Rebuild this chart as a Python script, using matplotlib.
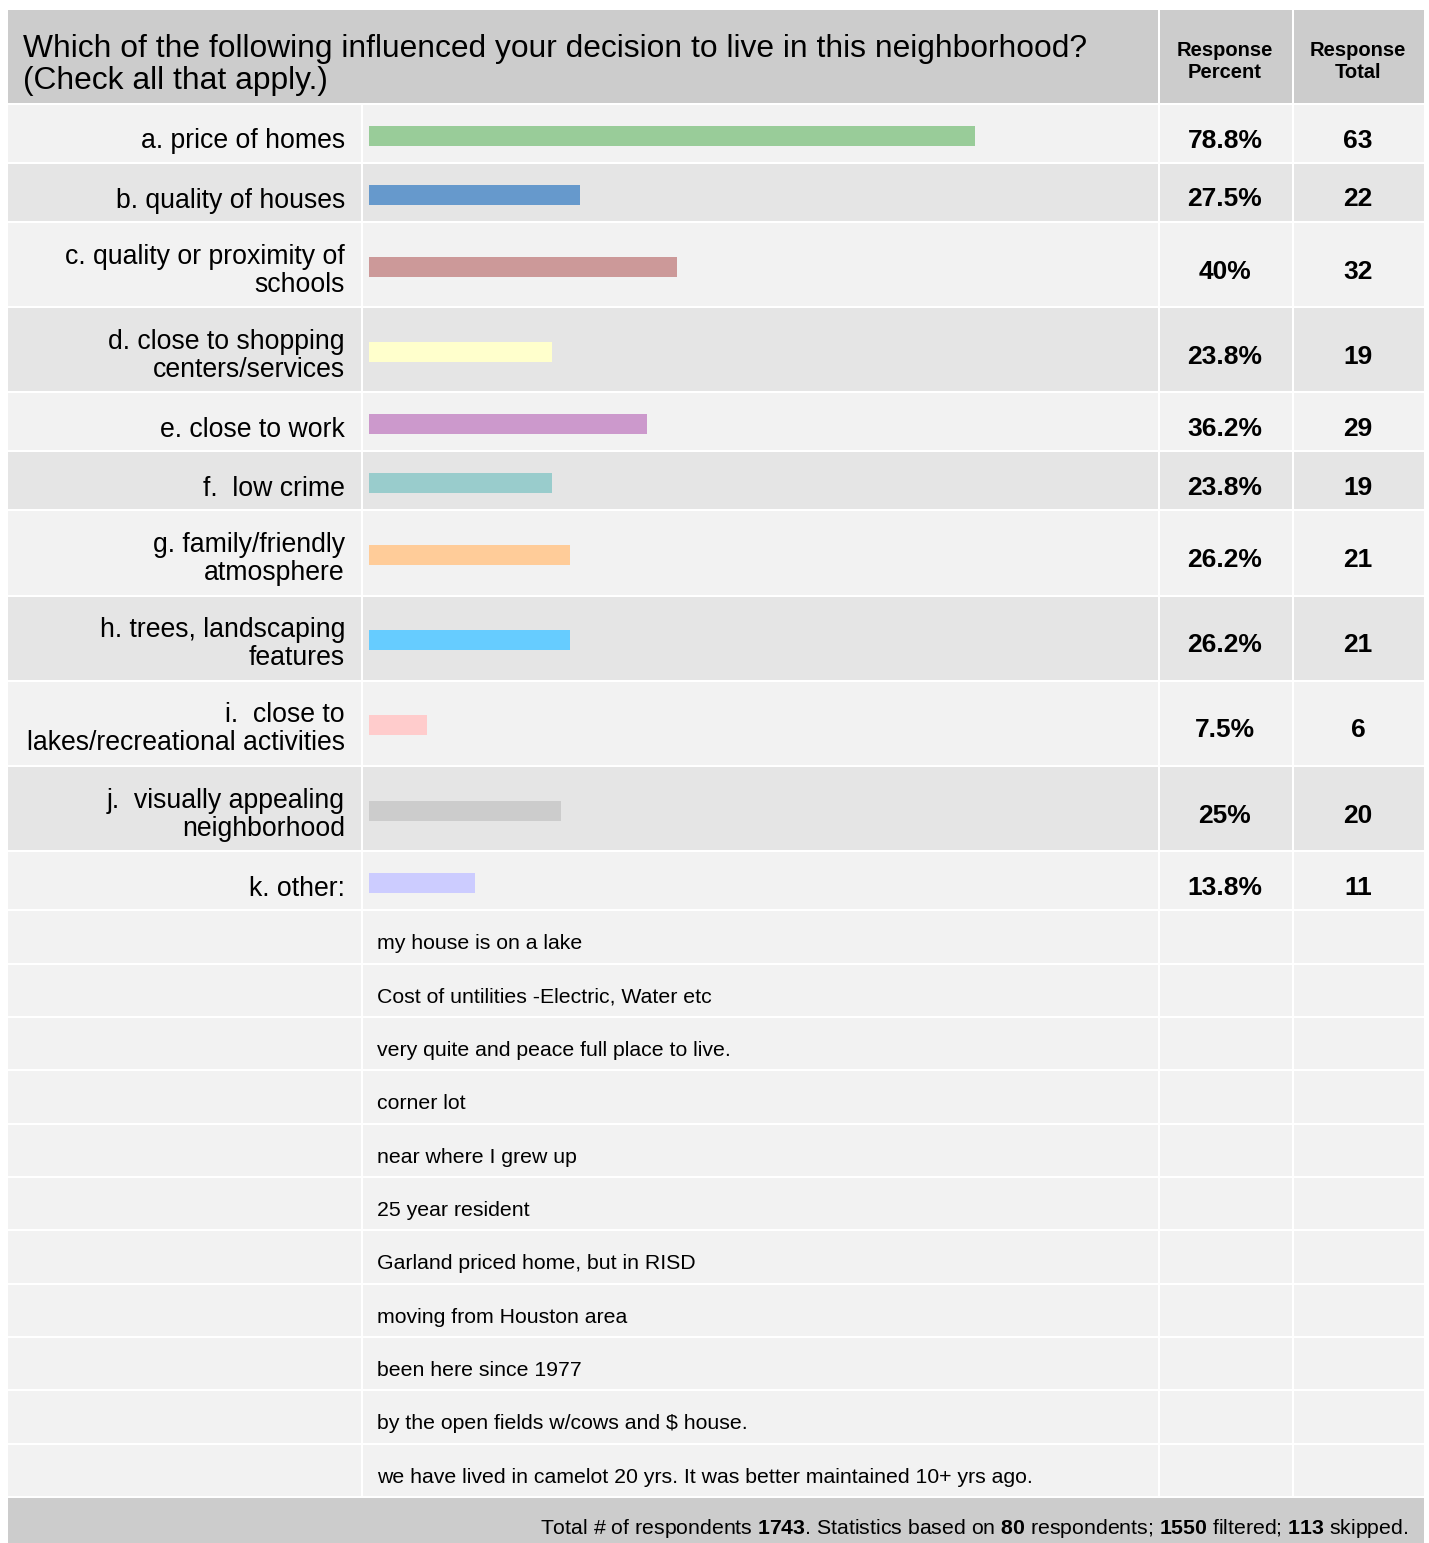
import numpy as np
import matplotlib
matplotlib.use('Agg')
import matplotlib.pyplot as plt
from matplotlib.patches import Rectangle

plt.rcParams['font.family'] = ['Liberation Sans', 'DejaVu Sans']
plt.rcParams['mathtext.fontset'] = 'custom'
plt.rcParams['mathtext.rm'] = 'Liberation Sans'
plt.rcParams['mathtext.bf'] = 'Liberation Sans:bold'

W, H = 1429, 1543

question = "Which of the following influenced your decision to live in this neighborhood?\n(Check all that apply.)"
labels = [
    "a. price of homes",
    "b. quality of houses",
    "c. quality or proximity of\nschools",
    "d. close to shopping\ncenters/services",
    "e. close to work",
    "f.  low crime",
    "g. family/friendly\natmosphere",
    "h. trees, landscaping\nfeatures",
    "i.  close to\nlakes/recreational activities",
    "j.  visually appealing\nneighborhood",
    "k. other:",
]
percents = [78.8, 27.5, 40, 23.8, 36.2, 23.8, 26.2, 26.2, 7.5, 25, 13.8]
percent_text = ["78.8%", "27.5%", "40%", "23.8%", "36.2%", "23.8%", "26.2%", "26.2%", "7.5%", "25%", "13.8%"]
totals = [63, 22, 32, 19, 29, 19, 21, 21, 6, 20, 11]
bar_colors = ['#99cc99', '#6699cc', '#cc9999', '#ffffcc', '#cc99cc', '#99cccc',
              '#ffcc99', '#66ccff', '#ffcccc', '#cccccc', '#ccccff']
other_answers = [
    "my house is on a lake",
    "Cost of untilities -Electric, Water etc",
    "very quite and peace full place to live.",
    "corner lot",
    "near where I grew up",
    "25 year resident",
    "Garland priced home, but in RISD",
    "moving from Houston area",
    "been here since 1977",
    "by the open fields w/cows and $ house.",
    "we have lived in camelot 20 yrs. It was better maintained 10+ yrs ago.",
]
footer = (r"Total # of respondents $\mathbf{1743}$. Statistics based on $\mathbf{80}$ respondents; "
          r"$\mathbf{1550}$ filtered; $\mathbf{113}$ skipped.")

# table geometry (pixels)
LEFT, RIGHT = 8, 1424
COLS = [(8, 361), (363, 1158), (1160, 1292), (1294, 1424)]
HEAD_TOP, HEAD_BOT = 10, 103
GAP = 2

fig = plt.figure(figsize=(W / 100, H / 100), dpi=100)
ax = fig.add_axes([0, 0, 1, 1])
ax.set_xlim(0, W)
ax.set_ylim(H, 0)
ax.axis('off')

# header
ax.add_patch(Rectangle((LEFT, HEAD_TOP), RIGHT - LEFT, HEAD_BOT - HEAD_TOP, color='#cccccc', lw=0))
for x0 in (1158, 1292):
    ax.add_patch(Rectangle((x0, HEAD_TOP), GAP, HEAD_BOT - HEAD_TOP, color='white', lw=0))
ax.text(23, 65, question, fontsize=22.9, ha='left', va='center', linespacing=1.12, color='black')
ax.text(1225, 62, "Response\nPercent", fontsize=14.5, fontweight='bold', ha='center', va='center', linespacing=1.2)
ax.text(1358, 62, "Response\nTotal", fontsize=14.5, fontweight='bold', ha='center', va='center', linespacing=1.2)

# rows
y = HEAD_BOT + GAP
centers = []
for i, lab in enumerate(labels):
    two_line = '\n' in lab
    h = 83.2 if two_line else 57
    bg = '#f2f2f2' if i % 2 == 0 else '#e5e5e5'
    for x0, x1 in COLS:
        ax.add_patch(Rectangle((x0, y), x1 - x0, h, color=bg, lw=0))
    c = y + h / 2
    centers.append(c + 2)
    ax.text(345, c + (6 if two_line else 8), lab, fontsize=19.2, ha='right', va='center', linespacing=1.1)
    ax.text(1225, c + 7, percent_text[i], fontsize=19, fontweight='bold', ha='center', va='center')
    ax.text(1358, c + 7, str(totals[i]), fontsize=19, fontweight='bold', ha='center', va='center')
    y += h + GAP

ch = (1498 - y) / len(other_answers)
for txt in other_answers:
    for x0, x1 in COLS:
        ax.add_patch(Rectangle((x0, y), x1 - x0, ch - GAP, color='#f2f2f2', lw=0))
    ax.text(377, y + (ch - GAP) / 2 + 7, txt, fontsize=15.3, ha='left', va='center')
    y += ch

# footer
ax.add_patch(Rectangle((LEFT, y), RIGHT - LEFT, H - y, color='#cccccc', lw=0))
ax.text(1408, y + 31, footer, fontsize=15.3, ha='right', va='center')

# bars
bax = fig.add_axes([369 / W, 0, (1138 - 369) / W, 1])
bax.set_xlim(0, 100)
bax.set_ylim(H, 0)
bax.axis('off')
bax.patch.set_alpha(0)
bax.barh(centers, percents, height=20, color=bar_colors, edgecolor='none')

fig.savefig('out.png', dpi=100)
